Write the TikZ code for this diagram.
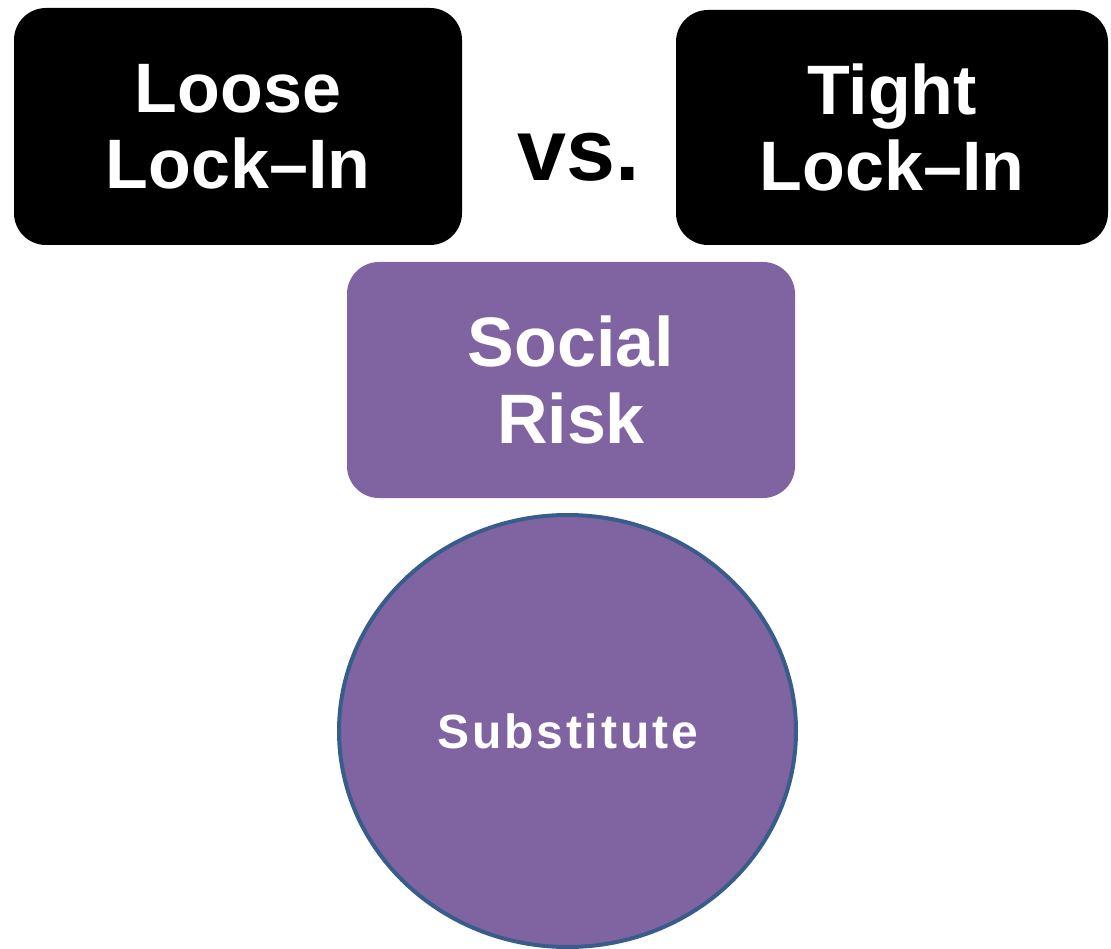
\documentclass[tikz,border=0pt]{standalone}
\usepackage{fontspec}
\setmainfont{Liberation Sans}
\usetikzlibrary{positioning,shapes.geometric}

\definecolor{riskpurple}{HTML}{8064A2}
\definecolor{ringblue}{HTML}{385D8A}

\tikzset{
  lockbox/.style={rounded corners=32pt, fill=black, text=white, align=center,
    inner sep=0pt, font=\bfseries\fontsize{70}{76}\selectfont},
  riskbox/.style={rounded corners=32pt, fill=riskpurple, text=white, align=center,
    inner sep=0pt, font=\bfseries\fontsize{70}{77}\selectfont},
}

\begin{document}
\begin{tikzpicture}[x=1pt,y=-1pt]
\useasboundingbox (0,0) rectangle (1111,949);

% Lock-in boxes
\node [lockbox, minimum width=448pt, minimum height=237pt] (loose) at (238,126.5) {Loose\\Lock--In};
\node [lockbox, minimum width=432pt, minimum height=235pt] (tight) at (892,127.5) {Tight\\Lock--In};

% Text Node
\node [inner sep=0pt, font=\bfseries\fontsize{88}{90}\selectfont] (vs) at (578.5,157) {vs.};

% Social risk
\node [riskbox, minimum width=448pt, minimum height=236pt] (risk) at (571,380) {Social\\Risk};

% Substitute
\node [ellipse, fill=riskpurple, draw=ringblue, line width=4pt, text=white,
  minimum width=457pt, minimum height=432pt, inner sep=0pt,
  font=\bfseries\fontsize{48}{50}\selectfont\addfontfeature{LetterSpace=6}] (subst) at (567.5,731) {Substitute};

\end{tikzpicture}
\end{document}
